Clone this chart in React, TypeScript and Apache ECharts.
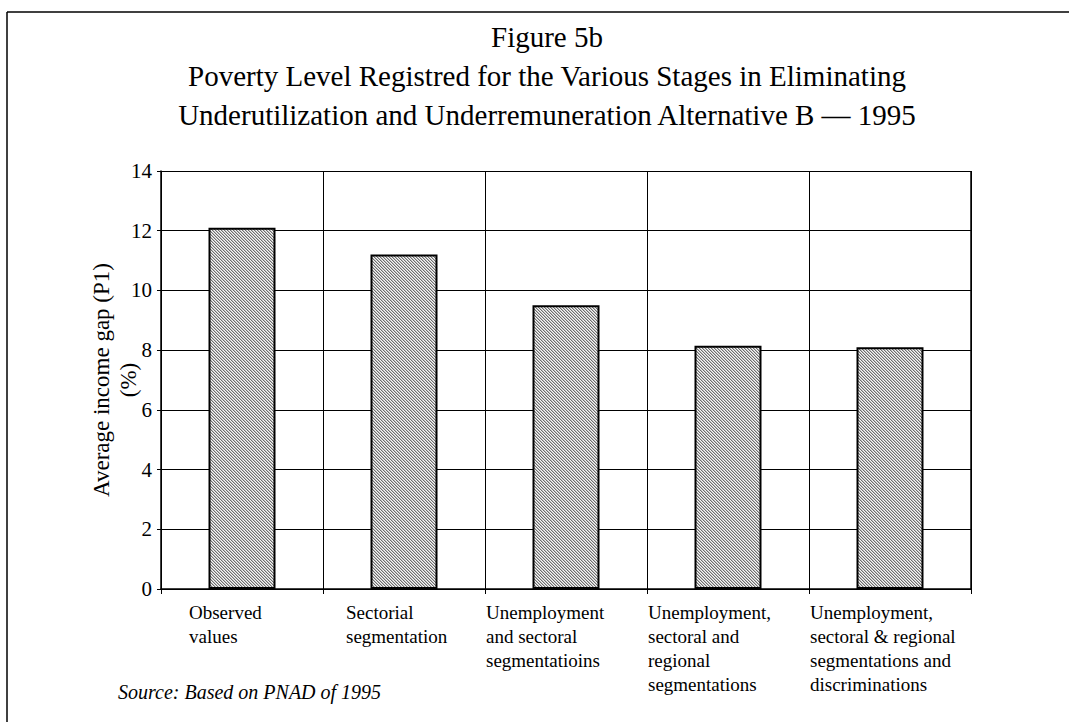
import React, { useEffect, useRef } from "react";
import * as echarts from "echarts";

const categories = [
  "Observed values",
  "Sectorial segmentation",
  "Unemployment and sectoral segmentatioins",
  "Unemployment, sectoral and regional segmentations",
  "Unemployment, sectoral & regional segmentations and discriminations",
];
const labelLines = [
  ["Observed", "values"],
  ["Sectorial", "segmentation"],
  ["Unemployment", "and sectoral", "segmentatioins"],
  ["Unemployment,", "sectoral and", "regional", "segmentations"],
  ["Unemployment,", "sectoral & regional", "segmentations and", "discriminations"],
];
const values = [12.1, 11.2, 9.5, 8.15, 8.1];
const yTicks = [0, 2, 4, 6, 8, 10, 12, 14];
const titleLines = [
  "Figure 5b",
  "Poverty Level Registred for the Various Stages in Eliminating",
  "Underutilization and Underremuneration Alternative B \u2014 1995",
];
const yAxisName = "Average income gap (P1)\n(%)";
const sourceNote = "Source: Based on PNAD of 1995";

const FONT = "'Liberation Serif', 'Times New Roman', serif";

function makePattern(): string {
  const c = document.createElement("canvas");
  c.width = 3;
  c.height = 3;
  const ctx = c.getContext("2d")!;
  const img = ctx.createImageData(3, 3);
  for (let y = 0; y < 3; y++) {
    for (let x = 0; x < 3; x++) {
      const k = (((x - y) % 3) + 3) % 3;
      const v = k === 0 ? 110 : k === 1 ? 190 : 245;
      const i = (y * 3 + x) * 4;
      img.data[i] = v;
      img.data[i + 1] = v;
      img.data[i + 2] = v;
      img.data[i + 3] = 255;
    }
  }
  ctx.putImageData(img, 0, 0);
  return c.toDataURL();
}

export default function App() {
  const ref = useRef<HTMLDivElement>(null);
  useEffect(() => {
    document.body.style.margin = "0";
    const chart = echarts.init(ref.current!, null, { renderer: "svg" });
    const pattern = makePattern();
    const widths = [106, 116, 160, 160, 160];
    const rich: any = {};
    widths.forEach((w, i) => {
      rich["c" + i] = {
        width: w,
        align: "left",
        fontFamily: FONT,
        fontSize: 19,
        lineHeight: 24,
        color: "#000",
      };
    });
    chart.setOption({
      animation: false,
      backgroundColor: "#fff",
      title: {
        text: titleLines.join("\n"),
        left: 542,
        top: 12,
        textAlign: "center",
        textStyle: {
          fontFamily: FONT,
          fontWeight: "normal",
          fontSize: 29,
          lineHeight: 39,
          color: "#000",
        },
      },
      grid: { left: 161, right: 98, top: 171, bottom: 133, containLabel: false },
      xAxis: {
        type: "category",
        data: categories,
        boundaryGap: true,
        axisLine: { show: true, lineStyle: { color: "#000", width: 1.5 } },
        axisTick: { show: true, length: 5, lineStyle: { color: "#000" } },
        splitLine: { show: true, lineStyle: { color: "#000", width: 1 } },
        axisLabel: {
          interval: 0,
          margin: 11,
          align: "center",
          verticalAlign: "top",
          formatter: (_v: string, idx: number) =>
            labelLines[idx].map((l) => `{c${idx}|${l}}`).join("\n"),
          rich,
        },
      },
      yAxis: {
        type: "value",
        min: 0,
        max: 14,
        interval: 2,
        name: yAxisName,
        nameLocation: "middle",
        nameGap: 19,
        nameMoveOverlap: false,
        nameTextStyle: {
          fontFamily: FONT,
          fontSize: 23,
          lineHeight: 27,
          color: "#000",
        },
        axisLine: { show: true, lineStyle: { color: "#000", width: 1.5 } },
        axisTick: { show: true, length: 4, lineStyle: { color: "#000" } },
        splitLine: { show: true, lineStyle: { color: "#000", width: 1 } },
        axisLabel: {
          margin: 9,
          fontFamily: FONT,
          fontSize: 21,
          color: "#000",
          formatter: (v: number) => (yTicks.includes(v) ? String(v) : ""),
        },
      },
      series: [
        {
          type: "bar",
          data: values,
          barWidth: 67,
          itemStyle: {
            color: { image: pattern, repeat: "repeat" },
            borderColor: "#000",
            borderWidth: 2,
          },
        },
      ],
      graphic: [
        {
          type: "line",
          shape: { x1: 7, y1: 12, x2: 1069, y2: 12 },
          style: { stroke: "#000", lineWidth: 1.5 },
          silent: true,
        },
        {
          type: "line",
          shape: { x1: 7, y1: 12, x2: 7, y2: 722 },
          style: { stroke: "#000", lineWidth: 1.5 },
          silent: true,
        },
        {
          type: "line",
          shape: { x1: 971, y1: 171, x2: 971, y2: 589 },
          style: { stroke: "#000", lineWidth: 1.5 },
          silent: true,
        },
        {
          type: "text",
          left: 118,
          top: 682,
          style: {
            text: sourceNote,
            fontFamily: FONT,
            fontStyle: "italic",
            fontSize: 20,
            fill: "#000",
          },
        },
      ],
    });
    return () => chart.dispose();
  }, []);
  return <div ref={ref} style={{ width: 1069, height: 722 }} />;
}
